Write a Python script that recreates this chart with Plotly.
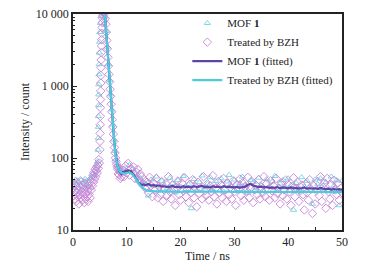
import plotly.graph_objects as go

# ---------------- data ----------------
# MOF 1 (open triangles)
mof_t = [0.0, 0.25, 0.5, 0.75, 1.0, 1.25, 1.5, 1.75, 2.0, 2.25, 2.5, 2.75, 3.0, 3.25, 3.5, 3.75, 4.0, 4.25, 4.5,
         4.6, 4.65, 4.7, 4.72, 4.74, 4.76, 4.78, 4.8, 4.82, 4.85, 4.9, 4.95, 5.0, 5.1, 5.2, 5.3, 5.4, 5.5,
         5.6, 5.8, 6.0, 6.2, 6.4, 6.6, 6.8, 7.0, 7.2, 7.4, 7.6, 7.8, 8.0, 8.2, 8.4, 8.6, 8.8, 9.0,
         9.5, 10.0, 10.5, 11.0, 11.5, 12.0, 12.5, 13.0,
         13.5, 14.0, 14.5, 15.0, 15.5, 16.0, 16.5, 17.0,
         17.5, 18.0, 18.5, 19.0, 19.5, 20.0, 20.5, 21.0,
         21.5, 22.0, 22.5, 23.0, 23.5, 24.0, 24.5, 25.0,
         25.5, 26.0, 26.5, 27.0, 27.5, 28.0, 28.5, 29.0,
         29.5, 30.0, 30.5, 31.0, 31.5, 32.0, 32.5, 33.0,
         33.5, 34.0, 34.5, 35.0, 35.5, 36.0, 36.5, 37.0,
         37.5, 38.0, 38.5, 39.0, 39.5, 40.0, 40.5, 41.0,
         41.5, 42.0, 42.5, 43.0, 43.5, 44.0, 44.5, 45.0,
         45.5, 46.0, 46.5, 47.0, 47.5, 48.0, 48.5, 49.0,
         49.5, 50.0]
mof_counts = [45, 38, 50, 42, 47, 35, 49, 40, 46, 51, 43, 48, 39, 52, 55, 60, 58, 66, 78,
              90, 130, 190, 270, 380, 540, 760, 1050, 1450, 2000, 2900, 4100, 5600, 7500, 9300, 10800, 11500, 11800,
              11000, 10500, 9200, 5800, 3500, 2000, 1200, 760, 470, 290, 180, 125, 95, 80, 72, 66, 70, 62,
              72, 66, 80, 70, 62, 58, 52, 47,
              44, 30, 50, 41, 55, 36, 48, 42,
              38, 53, 45, 33, 49, 40, 56, 37,
              43, 20, 51, 35, 46, 57, 39, 44,
              54, 36, 48, 41, 52, 34, 47, 58,
              40, 50, 37, 45, 55, 42, 33, 49,
              46, 38, 53, 43, 35, 51, 40, 47,
              56, 36, 44, 49, 39, 52, 42, 19,
              45, 37, 54, 40, 48, 40, 23, 50,
              43, 52, 38, 46, 35, 55, 41, 49,
              22, 48]

# Treated by BZH (open diamonds)
bzh_t = [0.0, 0.1, 0.2, 0.3, 0.4, 0.5, 0.6, 0.7, 0.8, 0.9,
         1.0, 1.1, 1.2, 1.3, 1.4, 1.5, 1.6, 1.7, 1.8, 1.9,
         2.0, 2.1, 2.2, 2.3, 2.4, 2.5, 2.6, 2.7, 2.8, 2.9,
         3.0, 3.1, 3.2, 3.3, 3.4, 3.5, 3.6, 3.7, 3.8, 3.9,
         4.0, 4.1, 4.2, 4.3, 4.4, 4.5, 4.6, 4.7, 4.8, 4.9,
         5.0, 5.02, 5.04, 5.06, 5.08, 5.1, 5.12, 5.14, 5.16, 5.18, 5.2, 5.23, 5.26, 5.29, 5.32,
         5.36, 5.4, 5.45, 5.5, 5.55, 5.6, 5.7, 5.8,
         5.9, 6.0, 6.1, 6.2, 6.3, 6.4, 6.5, 6.6, 6.7, 6.8, 6.9, 7.0, 7.1, 7.2, 7.3, 7.4, 7.5,
         7.6, 7.7, 7.8, 7.9, 8.0, 8.1, 8.2, 8.3, 8.4, 8.5, 8.6, 8.7, 8.8, 8.9, 9.0,
         9.25, 9.5, 9.75, 10.0, 10.25, 10.5, 10.75, 11.0,
         11.25, 11.5, 11.75, 12.0, 12.25, 12.5, 12.75, 13.0,
         13.25, 13.5, 13.75, 14.0, 14.25, 14.5, 14.75, 15.0,
         15.25, 15.5, 15.75, 16.0, 16.25, 16.5, 16.75, 17.0,
         17.25, 17.5, 17.75, 18.0, 18.25, 18.5, 18.75, 19.0,
         19.25, 19.5, 19.75, 20.0, 20.25, 20.5, 20.75, 21.0,
         21.25, 21.5, 21.75, 22.0, 22.25, 22.5, 22.75, 23.0,
         23.25, 23.5, 23.75, 24.0, 24.25, 24.5, 24.75, 25.0,
         25.25, 25.5, 25.75, 26.0, 26.25, 26.5, 26.75, 27.0,
         27.25, 27.5, 27.75, 28.0, 28.25, 28.5, 28.75, 29.0,
         29.25, 29.5, 29.75, 30.0, 30.25, 30.5, 30.75, 31.0,
         31.25, 31.5, 31.75, 32.0, 32.25, 32.5, 32.75, 33.0,
         33.25, 33.5, 33.75, 34.0, 34.25, 34.5, 34.75, 35.0,
         35.25, 35.5, 35.75, 36.0, 36.25, 36.5, 36.75, 37.0,
         37.25, 37.5, 37.75, 38.0, 38.25, 38.5, 38.75, 39.0,
         39.25, 39.5, 39.75, 40.0, 40.25, 40.5, 40.75, 41.0,
         41.25, 41.5, 41.75, 42.0, 42.25, 42.5, 42.75, 43.0,
         43.25, 43.5, 43.75, 44.0, 44.25, 44.5, 44.75, 45.0,
         45.25, 45.5, 45.75, 46.0, 46.25, 46.5, 46.75, 47.0,
         47.25, 47.5, 47.75, 48.0, 48.25, 48.5, 48.75, 49.0,
         49.25, 49.5, 49.75, 50.0]
bzh_counts = [38, 30, 44, 27, 35, 41, 25, 33, 46, 29,
              36, 23, 40, 31, 48, 28, 34, 26, 42, 30,
              37, 24, 45, 32, 27, 39, 29, 35, 25, 43,
              31, 38, 28, 47, 36, 52, 41, 58, 46, 63,
              50, 70, 55, 66, 75, 62, 80, 72, 95, 85,
              130, 170, 220, 290, 380, 500, 650, 850, 1100, 1400, 1800, 2300, 2900, 3600, 4400,
              5400, 6500, 7600, 8700, 9600, 10300, 10800, 10600,
              10200, 8600, 7200, 5600, 4300, 3300, 2500, 1900, 1450, 1150, 900, 720, 560, 440, 340, 270, 215,
              170, 140, 118, 100, 90, 82, 76, 70, 60, 72, 58, 66, 52, 63, 55,
              68, 55, 78, 62, 84, 58, 72, 66,
              75, 52, 64, 70, 48, 60, 55, 44,
              50, 38, 46, 33, 54, 41, 29, 45,
              36, 52, 28, 40, 31, 47, 25, 38,
              44, 30, 55, 34, 27, 42, 36, 22,
              39, 48, 31, 26, 45, 35, 53, 29,
              37, 24, 43, 33, 50, 28, 40, 21,
              46, 32, 38, 27, 55, 35, 30, 44,
              26, 41, 34, 57, 29, 38, 23, 47,
              33, 42, 28, 52, 36, 25, 45, 31,
              39, 27, 48, 34, 22, 43, 37, 51,
              30, 45, 26, 40, 35, 54, 28, 38,
              47, 24, 36, 42, 31, 50, 27, 39,
              33, 55, 29, 44, 37, 26, 48, 35,
              41, 28, 52, 32, 38, 23, 45, 30,
              36, 49, 27, 43, 34, 22, 40, 53,
              29, 38, 46, 25, 35, 42, 31, 19,
              44, 33, 26, 50, 37, 17, 41, 23,
              35, 47, 30, 55, 25, 39, 45, 20,
              52, 34, 27, 43, 22, 49, 36, 31,
              45, 26, 38, 33]

# MOF 1 (fitted)
mof_fit_t = [5.75, 5.9, 6.0, 6.2, 6.4, 6.6, 6.8, 7.0, 7.2, 7.4, 7.6, 7.8, 8.0, 8.2, 8.4, 8.6, 8.8, 9.0,
             9.25, 9.5, 9.75, 10.0, 10.25, 10.5, 10.75, 11.0, 11.25, 11.5, 11.75, 12.0, 12.25, 12.5, 12.75,
             13.0, 13.5, 14.0, 14.5, 15.0, 15.5, 16.0, 16.5,
             17.0, 17.5, 18.0, 18.5, 19.0, 19.5, 20.0, 20.5,
             21.0, 21.5, 22.0, 22.5, 23.0, 23.5, 24.0, 24.5,
             25.0, 25.5, 26.0, 26.5, 27.0, 27.5, 28.0, 28.5,
             29.0, 29.5, 30.0, 30.5, 31.0, 31.5, 32.0, 32.5,
             33.0, 33.5, 34.0, 34.5, 35.0, 35.5, 36.0, 36.5,
             37.0, 37.5, 38.0, 38.5, 39.0, 39.5, 40.0, 40.5,
             41.0, 41.5, 42.0, 42.5, 43.0, 43.5, 44.0, 44.5,
             45.0, 45.5, 46.0, 46.5, 47.0, 47.5, 48.0, 48.5,
             49.0, 49.5, 50.0]
mof_fit_counts = [11500, 10600, 8400, 5100, 3050, 1880, 1170, 740, 460, 300, 195, 135, 102, 84, 72, 66, 62, 60,
                  64, 63, 66, 65, 67, 64, 66, 62, 58, 55, 50, 47, 45, 44, 42,
                  43, 42, 43.5, 41.5, 42, 41, 41.5, 40,
                  40.5, 39.5, 40, 41, 39.5, 40, 39, 40.5,
                  39.5, 40, 39, 40.5, 39.5, 40, 41, 39.5,
                  40, 39, 40.5, 39.5, 40, 39, 40.5, 39.5,
                  40, 39.5, 39, 40, 38.5, 39.5, 40, 42.5,
                  43.5, 41.5, 40, 39.5, 40, 39, 39.5, 38.5,
                  39, 38.5, 39.5, 38, 39, 38.5, 38, 39,
                  38, 38.5, 37.5, 38, 39, 37.5, 38, 37.5,
                  38, 37, 38.5, 37.5, 37, 37.5, 36.5, 37,
                  36.5, 37, 36]

# Treated by BZH (fitted)
bzh_fit_t = [5.75, 5.9, 6.0, 6.2, 6.4, 6.6, 6.8, 7.0, 7.2, 7.4, 7.6, 7.8, 8.0, 8.2, 8.4, 8.6, 8.8, 9.0,
             9.5, 10.0, 10.5, 11.0, 11.5, 12.0, 12.5, 13.0, 13.5,
             14, 15, 16, 17, 18, 19, 20, 21, 22, 23, 24, 25, 26, 27, 28, 29, 30, 31,
             32, 33, 34, 35, 36, 37, 38, 39, 40, 41, 42, 43, 44, 45, 46, 47, 48, 49, 50]
bzh_fit_counts = [11500, 10500, 8200, 5000, 3000, 1850, 1150, 720, 450, 290, 190, 130, 98, 82, 72, 67, 64, 62,
                  61, 62, 63, 60, 54, 47, 41, 38, 36,
                  35, 34.5, 34.2, 34.5, 34, 34.3, 33.8, 34.2, 34, 34.4, 33.9, 34.1, 34.3, 33.8, 34, 34.2, 33.7, 34.1,
                  33.9, 34.2, 33.8, 34, 33.6, 34, 33.8, 34.1, 33.7, 33.9, 33.5, 33.8, 34, 33.6, 33.8, 33.5, 33.7, 33.4, 33.6]

y_tickvals = [10, 100, 1000, 10000]
y_ticktext = ["10", "100", "1 000", "10 000"]
y_minor = [20, 30, 40, 50, 60, 70, 80, 90, 200, 300, 400, 500, 600, 700, 800, 900,
           2000, 3000, 4000, 5000, 6000, 7000, 8000, 9000]
x_tickvals = [0, 10, 20, 30, 40, 50]
x_minor = [5, 15, 25, 35, 45]

# ---------------- figure ----------------
FONT = "Liberation Serif, Times New Roman, serif"
TXT = "#222222"

fig = go.Figure()
fig.add_trace(go.Scatter(
    x=mof_t, y=mof_counts, mode="markers", name="MOF <b>1</b>",
    marker=dict(symbol="triangle-up-open", size=5.5, color="#6fd6de", line=dict(width=0.9)),
))
fig.add_trace(go.Scatter(
    x=bzh_t, y=bzh_counts, mode="markers", name="Treated by BZH",
    marker=dict(symbol="diamond-open", size=6.5, color="#c784d6", line=dict(width=0.9)),
))
fig.add_trace(go.Scatter(
    x=mof_fit_t, y=mof_fit_counts, mode="lines", name="MOF <b>1</b> (fitted)",
    line=dict(color="#5b45a6", width=2.2),
))
fig.add_trace(go.Scatter(
    x=bzh_fit_t, y=bzh_fit_counts, mode="lines", name="Treated by BZH (fitted)",
    line=dict(color="#4ccbda", width=2.2),
))

fig.update_layout(
    width=366, height=268,
    margin=dict(l=73, r=24, t=14, b=38, autoexpand=False),
    paper_bgcolor="white", plot_bgcolor="white",
    font=dict(family=FONT, size=12, color=TXT),
    showlegend=True,
    legend=dict(
        x=0.425, y=1.025, xanchor="left", yanchor="top",
        bgcolor="rgba(0,0,0,0)", borderwidth=0,
        font=dict(family=FONT, size=11, color=TXT),
        itemwidth=30, tracegroupgap=0,
    ),
    xaxis=dict(
        range=[0, 50], tickmode="array", tickvals=x_tickvals, automargin=False,
        ticks="inside", ticklen=3, tickwidth=1.2, tickcolor=TXT,
        showline=True, linewidth=1.6, linecolor=TXT, mirror=True,
        showgrid=False, zeroline=False,
        minor=dict(tickmode="array", tickvals=x_minor, ticks="inside", ticklen=3, tickwidth=1.2, tickcolor=TXT),
        title=dict(text="Time / ns", standoff=2, font=dict(family=FONT, size=12, color=TXT)),
        tickfont=dict(family=FONT, size=12, color=TXT),
    ),
    yaxis=dict(
        type="log", range=[1, 4], tickmode="array", tickvals=y_tickvals, ticktext=y_ticktext, automargin=False,
        ticks="inside", ticklen=4, tickwidth=1.2, tickcolor=TXT,
        showline=True, linewidth=1.6, linecolor=TXT, mirror=True,
        showgrid=False, zeroline=False,
        minor=dict(tickmode="array", tickvals=y_minor, ticks="inside", ticklen=2, tickwidth=1, tickcolor=TXT),
        title=dict(text="Intensity / count", standoff=4, font=dict(family=FONT, size=12, color=TXT)),
        tickfont=dict(family=FONT, size=12, color=TXT),
    ),
)

fig.write_html("out.html", config={"displayModeBar": False},
               post_script="document.body.style.margin='0px';")
